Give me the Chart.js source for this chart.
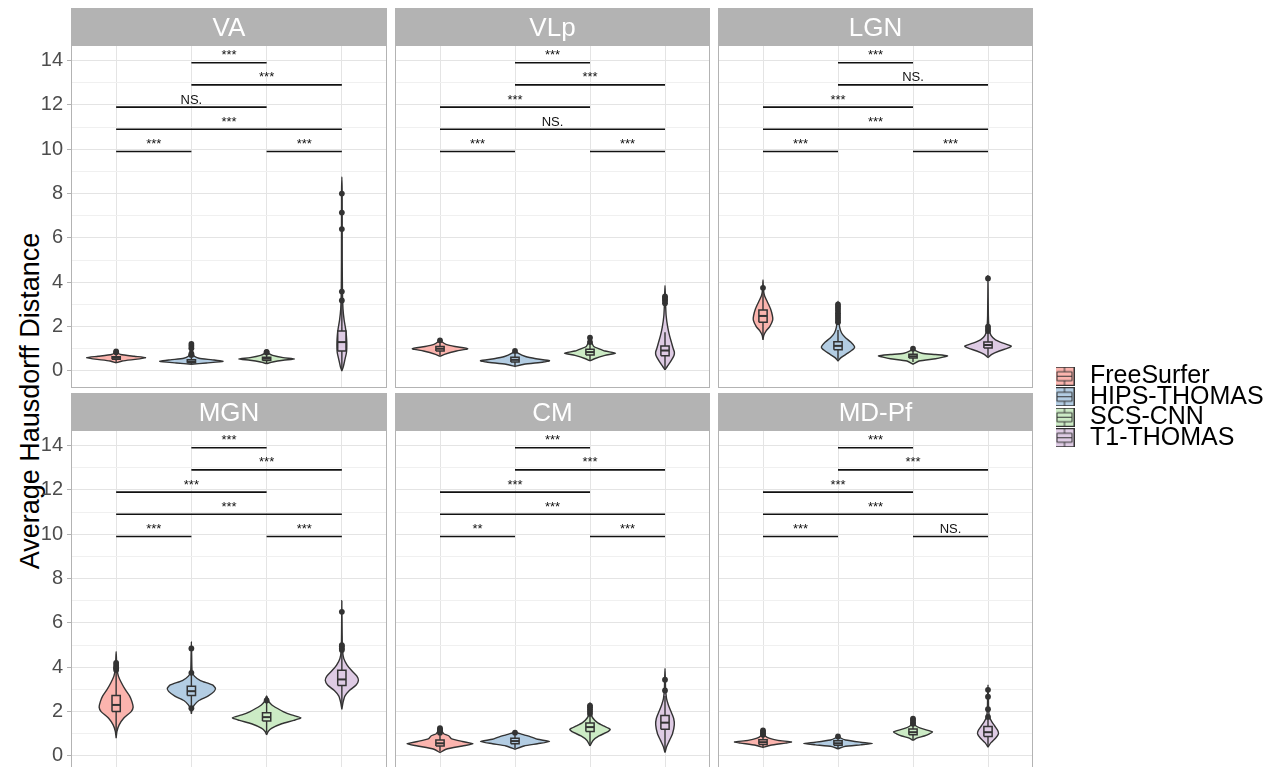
<!DOCTYPE html>
<html>
<head>
<meta charset="utf-8">
<script src="https://cdn.jsdelivr.net/npm/chart.js@4.4.1/dist/chart.umd.min.js"></script>
<style>
  html, body { margin: 0; padding: 0; background: #ffffff; }
  body { width: 1284px; height: 767px; overflow: hidden; position: relative;
         font-family: "Liberation Sans", Arial, sans-serif; }
  canvas { position: absolute; }
  #ytitle { position: absolute; width: 560px; height: 32px; line-height: 32px;
            left: -250px; top: 385px; text-align: center; font-size: 27px; color: #000;
            transform: rotate(-90deg); transform-origin: 50% 50%; white-space: nowrap; }
</style>
</head>
<body>
<div id="ytitle">Average Hausdorff Distance</div>
<script>
// ---------- data ----------
const regions = ['VA', 'VLp', 'LGN', 'MGN', 'CM', 'MD-Pf'];
const methods = ['FreeSurfer', 'HIPS-THOMAS', 'SCS-CNN', 'T1-THOMAS'];
const methodFills = ['#FBB4AE', '#B3CDE3', '#CCEBC5', '#DECBE4'];
const yTickValues = [0, 2, 4, 6, 8, 10, 12, 14];
const yMinorValues = [1, 3, 5, 7, 9, 11, 13];

// pairwise comparisons: method positions, bracket height, label per region
const sigPairs = [[2, 3], [2, 4], [1, 3], [1, 4], [1, 2], [3, 4]];
const sigHeights = [13.9, 12.9, 11.9, 10.9, 9.9, 9.9];
const sigVA   = ['***', '***', 'NS.', '***', '***', '***'];
const sigVLp  = ['***', '***', '***', 'NS.', '***', '***'];
const sigLGN  = ['***', 'NS.', '***', '***', '***', '***'];
const sigMGN  = ['***', '***', '***', '***', '***', '***'];
const sigCM   = ['***', '***', '***', '***', '**',  '***'];
const sigMDPf = ['***', '***', '***', '***', '***', 'NS.'];

// violin density profiles: [distance, half-width] from bottom to top, one per method
const densityVA = [
  [[0.36,0],[0.45,0.08],[0.53,0.28],[0.6,0.39],[0.66,0.24],[0.74,0.06],[0.82,0.02],[0.9,0]],
  [[0.3,0],[0.36,0.2],[0.43,0.42],[0.5,0.28],[0.57,0.1],[0.66,0.04],[0.8,0.02],[1.0,0.01],[1.26,0]],
  [[0.33,0],[0.4,0.08],[0.48,0.22],[0.54,0.37],[0.6,0.22],[0.7,0.08],[0.8,0.02],[0.88,0]],
  [[0.0,0],[0.2,0.02],[0.5,0.04],[0.8,0.06],[1.0,0.065],[1.3,0.065],[1.6,0.06],[1.9,0.05],[2.3,0.03],[2.8,0.015],[3.5,0.008],[5,0.005],[8,0.004],[8.75,0]]
];
const densityVLp = [
  [[0.66,0],[0.75,0.06],[0.9,0.22],[1.0,0.37],[1.1,0.2],[1.2,0.08],[1.3,0.03],[1.45,0]],
  [[0.2,0],[0.3,0.12],[0.4,0.38],[0.46,0.46],[0.55,0.28],[0.65,0.14],[0.8,0.04],[0.92,0]],
  [[0.45,0],[0.55,0.06],[0.7,0.2],[0.8,0.34],[0.9,0.2],[1.0,0.12],[1.1,0.05],[1.3,0.02],[1.55,0]],
  [[0.05,0],[0.2,0.03],[0.45,0.08],[0.7,0.12],[0.85,0.125],[1.0,0.11],[1.3,0.085],[1.6,0.06],[2.0,0.035],[2.5,0.015],[3.0,0.008],[3.5,0.004],[3.85,0]]
];
const densityLGN = [
  [[1.4,0],[1.6,0.01],[1.8,0.04],[2.0,0.09],[2.3,0.13],[2.5,0.125],[2.8,0.1],[3.1,0.06],[3.4,0.02],[3.7,0.005],[4.1,0]],
  [[0.45,0],[0.6,0.04],[0.8,0.13],[1.0,0.21],[1.1,0.22],[1.3,0.17],[1.5,0.1],[1.7,0.05],[2.0,0.02],[2.5,0.01],[3.15,0]],
  [[0.3,0],[0.45,0.08],[0.55,0.3],[0.62,0.4],[0.68,0.46],[0.74,0.3],[0.8,0.12],[0.9,0.04],[1.0,0]],
  [[0.6,0],[0.75,0.05],[0.9,0.15],[1.05,0.28],[1.12,0.31],[1.25,0.2],[1.4,0.1],[1.6,0.04],[1.9,0.015],[2.5,0.005],[4.3,0]]
];
const densityMGN = [
  [[0.8,0],[1.1,0.01],[1.4,0.04],[1.7,0.1],[2.0,0.2],[2.2,0.226],[2.45,0.21],[2.7,0.18],[3.0,0.12],[3.3,0.07],[3.6,0.03],[3.9,0.012],[4.3,0.005],[4.7,0]],
  [[1.9,0],[2.1,0.01],[2.3,0.04],[2.5,0.1],[2.7,0.22],[2.9,0.3],[3.05,0.32],[3.2,0.28],[3.4,0.12],[3.6,0.04],[3.8,0.01],[4.5,0.004],[5.15,0]],
  [[0.95,0],[1.1,0.02],[1.25,0.07],[1.45,0.2],[1.6,0.36],[1.72,0.455],[1.85,0.33],[2.0,0.22],[2.15,0.14],[2.3,0.07],[2.45,0.03],[2.7,0]],
  [[2.1,0],[2.4,0.015],[2.7,0.04],[2.95,0.1],[3.2,0.19],[3.4,0.22],[3.6,0.2],[3.85,0.13],[4.1,0.07],[4.4,0.025],[4.8,0.008],[5.5,0.004],[7.0,0]]
];
const densityCM = [
  [[0.15,0],[0.3,0.08],[0.45,0.3],[0.55,0.44],[0.65,0.3],[0.78,0.15],[0.9,0.12],[1.0,0.05],[1.15,0.02],[1.3,0]],
  [[0.3,0],[0.45,0.12],[0.55,0.3],[0.65,0.46],[0.75,0.3],[0.85,0.22],[0.95,0.12],[1.05,0.02],[1.1,0]],
  [[0.45,0],[0.7,0.04],[0.9,0.12],[1.1,0.24],[1.2,0.27],[1.35,0.18],[1.5,0.1],[1.7,0.04],[1.9,0.015],[2.4,0]],
  [[0.15,0],[0.4,0.02],[0.7,0.06],[1.0,0.1],[1.4,0.124],[1.7,0.115],[2.0,0.08],[2.3,0.045],[2.6,0.02],[3.0,0.008],[3.5,0.004],[3.95,0]]
];
const densityMDPf = [
  [[0.38,0],[0.48,0.1],[0.58,0.3],[0.63,0.38],[0.7,0.2],[0.8,0.08],[0.9,0.03],[1.0,0.01],[1.1,0]],
  [[0.32,0],[0.42,0.08],[0.5,0.3],[0.56,0.46],[0.62,0.3],[0.72,0.1],[0.82,0.03],[0.9,0]],
  [[0.7,0],[0.8,0.05],[0.9,0.15],[1.0,0.22],[1.08,0.26],[1.15,0.2],[1.25,0.1],[1.35,0.04],[1.5,0.01],[1.65,0]],
  [[0.4,0],[0.6,0.04],[0.8,0.1],[1.0,0.14],[1.15,0.13],[1.35,0.09],[1.55,0.05],[1.75,0.02],[2.1,0.008],[2.7,0.005],[3.2,0]]
];

// box summaries: [lower whisker, Q1, median, Q3, upper whisker]
const boxVA   = [[0.4,0.53,0.59,0.64,0.8],[0.31,0.37,0.42,0.5,0.68],[0.35,0.47,0.55,0.62,0.8],[0.05,0.9,1.3,1.8,3.1]];
const boxVLp  = [[0.7,0.9,1.0,1.1,1.3],[0.22,0.4,0.5,0.62,0.85],[0.47,0.72,0.85,0.98,1.2],[0.1,0.68,0.92,1.12,1.75]];
const boxLGN  = [[1.5,2.2,2.48,2.75,3.6],[0.5,0.95,1.13,1.32,1.85],[0.4,0.58,0.66,0.75,0.9],[0.65,1.03,1.17,1.3,1.7]];
const boxMGN  = [[0.95,2.0,2.3,2.73,3.8],[2.25,2.73,2.92,3.14,3.7],[1.05,1.57,1.75,1.95,2.45],[2.3,3.18,3.45,3.86,4.7]];
const boxCM   = [[0.2,0.45,0.57,0.72,1.0],[0.35,0.55,0.67,0.8,1.02],[0.5,1.1,1.3,1.48,1.85],[0.25,1.2,1.5,1.82,2.7]];
const boxMDPf = [[0.4,0.52,0.62,0.73,0.9],[0.35,0.48,0.57,0.68,0.85],[0.72,0.95,1.07,1.22,1.4],[0.45,0.88,1.07,1.33,1.7]];

// outlying observations per method
const outliersVA   = [[0.84,0.88],[0.72,0.78,1.02,1.12,1.22],[0.83,0.86],[3.18,3.58,6.4,7.14,8.0]];
const outliersVLp  = [[1.38],[0.9],[1.3,1.5],[3.05,3.15,3.22,3.3,3.36]];
const outliersLGN  = [[3.75],[2.2,2.3,2.4,2.5,2.6,2.7,2.8,2.9,3.0],[1.0],[1.8,1.9,2.0,4.17]];
const outliersMGN  = [[3.88,3.95,4.0,4.1,4.2],[2.15,3.75,4.85],[2.5],[4.78,4.85,4.95,5.0,6.5]];
const outliersCM   = [[1.05,1.1,1.15,1.2,1.25],[1.05],[1.9,2.0,2.1,2.2,2.27],[2.95,3.44]];
const outliersMDPf = [[0.95,1.0,1.08,1.15],[0.88],[1.45,1.5,1.6,1.68],[1.76,2.11,2.67,2.98]];

const facetDensity  = [densityVA, densityVLp, densityLGN, densityMGN, densityCM, densityMDPf];
const facetBox      = [boxVA, boxVLp, boxLGN, boxMGN, boxCM, boxMDPf];
const facetOutliers = [outliersVA, outliersVLp, outliersLGN, outliersMGN, outliersCM, outliersMDPf];
const facetSig      = [sigVA, sigVLp, sigLGN, sigMGN, sigCM, sigMDPf];

// ---------- layout & style ----------
const FONT = '"Liberation Sans", Arial, sans-serif';
const OUTLINE = '#333333';
const STRIP_H = 37;
const PANEL_H = 343;
const AXIS_W = 71;
const colLefts = [71, 395, 718];
const colWidths = [316, 315, 315];
const rowTops = [8, 393];
const Y_MIN = -0.77, Y_MAX = 14.7;
const X_MIN = 0.4, X_MAX = 4.6;
const BOX_HALF = 0.055;

Chart.defaults.font.family = FONT;
Chart.defaults.animation = false;
Chart.defaults.responsive = false;
Chart.defaults.events = [];
Chart.defaults.plugins.tooltip.enabled = false;

// grey strip with the region name above each panel
const stripPlugin = {
  id: 'strip',
  beforeDraw(chart, args, opts) {
    const {ctx, chartArea: {left, right, top}} = chart;
    ctx.save();
    ctx.fillStyle = '#B3B3B3';
    ctx.fillRect(left, top - STRIP_H, right - left, STRIP_H);
    ctx.fillStyle = '#FFFFFF';
    ctx.font = '26px ' + FONT;
    ctx.textAlign = 'center';
    ctx.textBaseline = 'alphabetic';
    ctx.fillText(opts.text, (left + right) / 2, top - STRIP_H / 2 + 9.3);
    ctx.restore();
  }
};

// panel frame
const framePlugin = {
  id: 'frame',
  afterDraw(chart) {
    const {ctx, chartArea: {left, right, top, bottom}} = chart;
    ctx.save();
    ctx.strokeStyle = '#B3B3B3';
    ctx.lineWidth = 1;
    ctx.strokeRect(left + 0.5, top + 0.5, right - left - 1, bottom - top - 1);
    ctx.restore();
  }
};

// significance labels centred above each bracket
const sigLabelPlugin = {
  id: 'sigLabels',
  afterDatasetsDraw(chart, args, opts) {
    const {ctx, scales: {x, y}} = chart;
    ctx.save();
    ctx.fillStyle = '#111111';
    ctx.font = '13px ' + FONT;
    ctx.textAlign = 'center';
    ctx.textBaseline = 'alphabetic';
    sigPairs.forEach(([a, b], k) => {
      ctx.fillText(opts.labels[k], x.getPixelForValue((a + b) / 2), y.getPixelForValue(sigHeights[k]) - 3.5);
    });
    ctx.restore();
  }
};

function buildDatasets(density, box, outliers) {
  const ds = [];
  methods.forEach((name, i) => {
    const c = i + 1;
    const prof = density[i];
    const right = prof.map(([v, w]) => ({x: c + w, y: v}));
    const left = prof.slice(1, -1).reverse().map(([v, w]) => ({x: c - w, y: v}));
    ds.push({
      label: name + ' violin', data: right.concat(left, [right[0]]),
      fill: 'shape', backgroundColor: methodFills[i], borderColor: OUTLINE,
      borderWidth: 1.4, tension: 0.2, pointRadius: 0, order: 50
    });
    const [lo, q1, med, q3, hi] = box[i];
    ds.push({
      label: name + ' whisker', data: [{x: c, y: lo}, {x: c, y: hi}],
      fill: false, borderColor: OUTLINE, borderWidth: 1.4, pointRadius: 0, order: 40
    });
    ds.push({
      label: name + ' box',
      data: [{x: c - BOX_HALF, y: q1}, {x: c + BOX_HALF, y: q1}, {x: c + BOX_HALF, y: q3},
             {x: c - BOX_HALF, y: q3}, {x: c - BOX_HALF, y: q1}],
      fill: 'shape', backgroundColor: methodFills[i], borderColor: OUTLINE,
      borderWidth: 1.5, pointRadius: 0, order: 30
    });
    ds.push({
      label: name + ' median', data: [{x: c - BOX_HALF, y: med}, {x: c + BOX_HALF, y: med}],
      fill: false, borderColor: OUTLINE, borderWidth: 2, pointRadius: 0, order: 20
    });
    ds.push({
      label: name + ' outliers', data: outliers[i].map(v => ({x: c, y: v})),
      showLine: false, pointRadius: 2.9, pointBorderWidth: 0,
      pointBackgroundColor: OUTLINE, order: 10
    });
  });
  sigPairs.forEach(([a, b], k) => {
    ds.push({
      label: 'bracket ' + a + '-' + b,
      data: [{x: a, y: sigHeights[k]}, {x: b, y: sigHeights[k]}],
      fill: false, borderColor: '#111111', borderWidth: 1.6, pointRadius: 0, order: 5
    });
  });
  return ds;
}

regions.forEach((region, idx) => {
  const col = idx % 3, row = Math.floor(idx / 3);
  const axisW = col === 0 ? AXIS_W : 0;
  const w = colWidths[col] + axisW;
  const h = STRIP_H + PANEL_H;
  const canvas = document.createElement('canvas');
  canvas.width = w; canvas.height = h;
  canvas.style.width = w + 'px'; canvas.style.height = h + 'px';
  canvas.style.left = (colLefts[col] - axisW) + 'px';
  canvas.style.top = rowTops[row] + 'px';
  document.body.appendChild(canvas);

  new Chart(canvas, {
    type: 'line',
    data: {datasets: buildDatasets(facetDensity[idx], facetBox[idx], facetOutliers[idx])},
    options: {
      devicePixelRatio: 1,
      layout: {autoPadding: false, padding: {top: STRIP_H, left: 0, right: 0, bottom: 0}},
      plugins: {
        legend: {display: false},
        strip: {text: region},
        sigLabels: {labels: facetSig[idx]}
      },
      scales: {
        x: {
          type: 'linear', min: X_MIN, max: X_MAX,
          afterBuildTicks: s => { s.ticks = [1, 2, 3, 4].map(v => ({value: v})); },
          ticks: {display: false},
          grid: {color: '#E4E4E4', lineWidth: 1, drawTicks: false},
          border: {display: false},
          afterFit: s => { s.height = 0; s.paddingLeft = 0; s.paddingRight = 0; }
        },
        y: {
          type: 'linear', min: Y_MIN, max: Y_MAX,
          afterBuildTicks: s => {
            s.ticks = yTickValues.concat(yMinorValues).sort((a, b) => a - b).map(v => ({value: v}));
          },
          ticks: {
            display: col === 0, autoSkip: false, padding: 4, color: '#4D4D4D',
            font: {size: 20, family: FONT},
            callback: v => (yTickValues.includes(v) ? String(v) : '')
          },
          grid: {
            color: c => (c.tick && yTickValues.includes(c.tick.value)) ? '#E4E4E4' : '#F0F0F0',
            lineWidth: 1, drawTicks: col === 0, tickLength: 4,
            tickColor: c => (c.tick && yTickValues.includes(c.tick.value)) ? '#B3B3B3' : 'rgba(0,0,0,0)'
          },
          border: {display: false},
          afterFit: s => { s.width = axisW; s.paddingTop = 0; s.paddingBottom = 0; }
        }
      }
    },
    plugins: [stripPlugin, sigLabelPlugin, framePlugin]
  });
});

// ---------- legend ----------
function keyGlyph(fill) {
  const c = document.createElement('canvas');
  c.width = 20; c.height = 19;
  const g = c.getContext('2d');
  g.fillStyle = fill;
  g.fillRect(0.5, 0.5, 19, 18);
  g.strokeStyle = OUTLINE;
  g.lineWidth = 1;
  g.strokeRect(0.5, 0.5, 19, 18);
  g.beginPath();
  g.moveTo(10, 1); g.lineTo(10, 5);
  g.moveTo(10, 14); g.lineTo(10, 18);
  g.rect(2.5, 5, 15, 9);
  g.moveTo(2.5, 9.5); g.lineTo(17.5, 9.5);
  g.stroke();
  return c;
}
const keyGlyphs = methodFills.map(keyGlyph);

const legendCanvas = document.createElement('canvas');
legendCanvas.width = 238; legendCanvas.height = 160;
legendCanvas.style.width = '238px'; legendCanvas.style.height = '160px';
legendCanvas.style.left = '1046px'; legendCanvas.style.top = '339px';
document.body.appendChild(legendCanvas);

new Chart(legendCanvas, {
  type: 'line',
  data: {datasets: methods.map((m, i) => ({label: m, data: [], backgroundColor: methodFills[i], borderColor: OUTLINE}))},
  options: {
    devicePixelRatio: 1,
    layout: {autoPadding: false, padding: {top: 20, left: 10, right: 0, bottom: 0}},
    scales: {x: {display: false}, y: {display: false}},
    plugins: {
      legend: {
        display: true, position: 'top', align: 'start', maxHeight: 400,
        title: {display: true, text: '', font: {size: 1}, padding: {top: 4, bottom: 4}},
        labels: {
          usePointStyle: true, pointStyleWidth: 26, padding: -4.5,
          color: '#000000', font: {size: 25, family: FONT},
          generateLabels: () => methods.map((m, i) => ({
            text: m, pointStyle: keyGlyphs[i], fillStyle: methodFills[i], fontColor: '#000000',
            strokeStyle: OUTLINE, lineWidth: 0, hidden: false, datasetIndex: i
          }))
        }
      }
    }
  }
});
</script>
</body>
</html>
